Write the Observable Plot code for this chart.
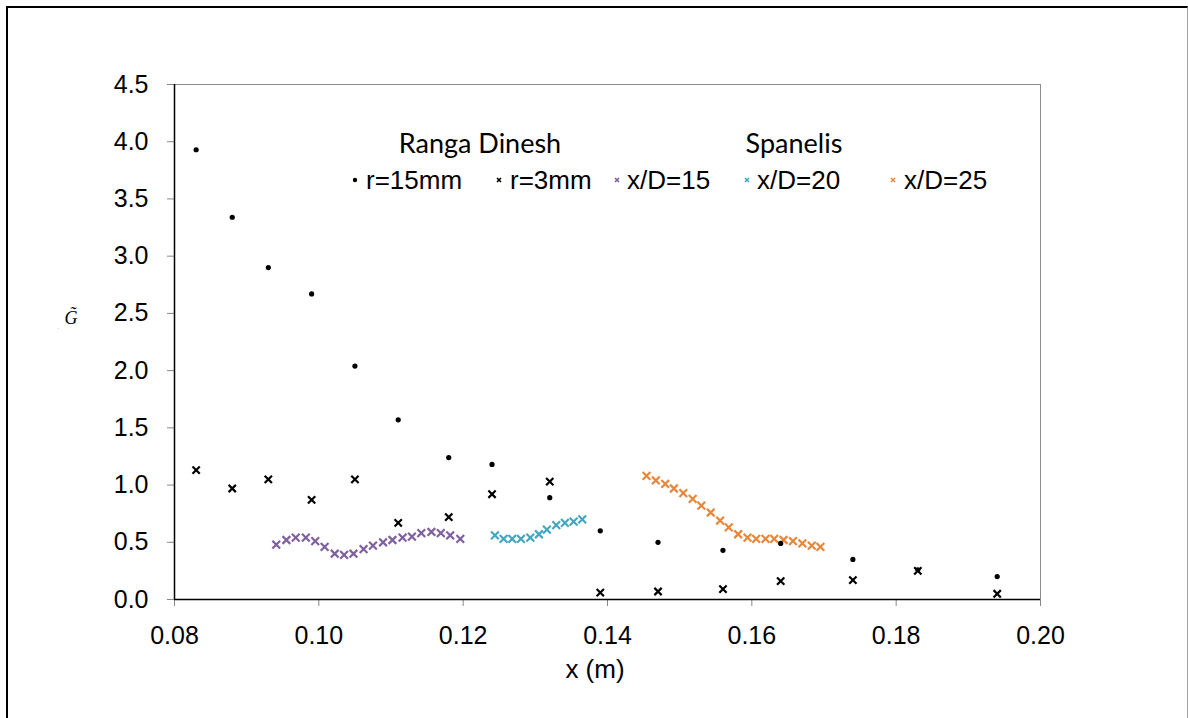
<!DOCTYPE html>
<html>
<head>
<meta charset="utf-8">
<script src="https://cdn.jsdelivr.net/npm/d3@7"></script>
<script src="https://cdn.jsdelivr.net/npm/@observablehq/plot@0.6"></script>
<style>
  html, body { margin: 0; padding: 0; background: #fff; }
  #wrap { position: relative; width: 1188px; height: 718px; overflow: hidden; font-family: "Liberation Sans", Arial, sans-serif; }
  #border { position: absolute; left: 6px; top: 6px; width: 1179px; height: 730px; border-left: 2px solid #000; border-top: 2px solid #000; border-right: 1px solid #a0a0a0; }
  #chart { position: absolute; left: 0; top: 0; }
  .lab { position: absolute; white-space: nowrap; color: #000; }
  .hdr { font-family: Lato, "Open Sans", sans-serif; font-size: 27px; transform: translate(-50%, -50%); }
  .item { font-size: 26px; transform: translateY(-50%); }
  .sym { position: absolute; transform: translate(-50%, -50%); }
</style>
</head>
<body>
<div id="wrap">
  <div id="border"></div>
  <div id="chart"></div>
</div>
<script>
// ---- data ----
const dineshX = [0.083, 0.088, 0.093, 0.099, 0.105, 0.111, 0.118, 0.124, 0.132, 0.139, 0.147, 0.156, 0.164, 0.174, 0.183, 0.194];
const r15 = [3.93, 3.34, 2.90, 2.67, 2.04, 1.57, 1.24, 1.18, 0.89, 0.60, 0.50, 0.43, 0.49, 0.35, 0.26, 0.20];
const r3 = [1.13, 0.97, 1.05, 0.87, 1.05, 0.67, 0.72, 0.92, 1.03, 0.06, 0.07, 0.09, 0.16, 0.17, 0.25, 0.05];

const xD15X = [0.0941, 0.0955, 0.0968, 0.0982, 0.0995, 0.1008, 0.1022, 0.1035, 0.1048, 0.1062, 0.1075, 0.1089, 0.1102, 0.1116, 0.1129, 0.1142, 0.1156, 0.1169, 0.1182, 0.1196];
const xD15Y = [0.48, 0.52, 0.54, 0.54, 0.51, 0.46, 0.40, 0.39, 0.40, 0.44, 0.47, 0.50, 0.52, 0.54, 0.55, 0.58, 0.59, 0.58, 0.56, 0.53];

const xD20X = [0.1244, 0.1256, 0.1268, 0.1280, 0.1293, 0.1305, 0.1316, 0.1329, 0.1341, 0.1353, 0.1365];
const xD20Y = [0.56, 0.53, 0.53, 0.53, 0.54, 0.57, 0.61, 0.65, 0.67, 0.68, 0.70];

const xD25X = [0.1454, 0.1467, 0.1480, 0.1492, 0.1505, 0.1518, 0.1530, 0.1543, 0.1556, 0.1568, 0.1581, 0.1594, 0.1606, 0.1619, 0.1631, 0.1644, 0.1657, 0.1670, 0.1683, 0.1695];
const xD25Y = [1.08, 1.04, 1.01, 0.97, 0.93, 0.88, 0.82, 0.76, 0.69, 0.63, 0.57, 0.54, 0.53, 0.53, 0.53, 0.52, 0.51, 0.49, 0.47, 0.46];

const xTicks = [0.08, 0.10, 0.12, 0.14, 0.16, 0.18, 0.20];
const yTicks = [0, 0.5, 1.0, 1.5, 2.0, 2.5, 3.0, 3.5, 4.0, 4.5];

const colors = { d15: "#7F60A0", d20: "#45A6C2", d25: "#E8873C" };

const zip = (xs, ys) => xs.map((x, i) => ({ x, y: ys[i] }));
const dR15 = zip(dineshX, r15);
const dR3 = zip(dineshX, r3);
const d15 = zip(xD15X, xD15Y);
const d20 = zip(xD20X, xD20Y);
const d25 = zip(xD25X, xD25Y);

const chart = Plot.plot({
  width: 1188,
  height: 718,
  marginLeft: 174,
  marginRight: 148,
  marginTop: 84,
  marginBottom: 119,
  style: { fontFamily: "'Liberation Sans', Arial, sans-serif", background: "transparent" },
  x: { domain: [0.08, 0.20] },
  y: { domain: [0, 4.5] },
  marks: [
    Plot.frame({ stroke: "#8c8c8c", strokeWidth: 1 }),
    Plot.axisX({ ticks: xTicks, tickFormat: d => d.toFixed(2), tickSize: 7, tickPadding: 20, fontSize: 25, stroke: "#888", fill: "#000", label: null }),
    Plot.axisY({ ticks: yTicks, tickFormat: d => d.toFixed(1), tickSize: 7, tickPadding: 19, fontSize: 25, stroke: "#888", fill: "#000", label: null }),
    Plot.ruleY([0], { stroke: "#000", strokeWidth: 1.5 }),
    Plot.ruleX([0.08], { stroke: "#000", strokeWidth: 1.5 }),
    Plot.dot(d15, { x: "x", y: "y", symbol: "times", r: 3.6, stroke: colors.d15, strokeWidth: 2.2 }),
    Plot.dot(d20, { x: "x", y: "y", symbol: "times", r: 3.6, stroke: colors.d20, strokeWidth: 2.2 }),
    Plot.dot(d25, { x: "x", y: "y", symbol: "times", r: 3.6, stroke: colors.d25, strokeWidth: 2.2 }),
    Plot.dot(dR3, { x: "x", y: "y", symbol: "times", r: 3.4, stroke: "#000", strokeWidth: 2.2 }),
    Plot.dot(dR15, { x: "x", y: "y", r: 2.6, fill: "#000", stroke: "none" })
  ]
});
document.getElementById("chart").appendChild(chart);

// ---- legend & labels ----
const wrap = document.getElementById("wrap");
function addLabel(text, cls, left, top, extra) {
  const el = document.createElement("div");
  el.className = "lab " + cls;
  el.textContent = text;
  el.style.left = left + "px";
  el.style.top = top + "px";
  if (extra) Object.assign(el.style, extra);
  wrap.appendChild(el);
  return el;
}
function addSym(kind, color, left, top) {
  const ns = "http://www.w3.org/2000/svg";
  const s = document.createElementNS(ns, "svg");
  s.setAttribute("width", 10); s.setAttribute("height", 10);
  s.setAttribute("class", "sym");
  s.style.position = "absolute";
  s.style.left = left + "px"; s.style.top = top + "px";
  if (kind === "dot") {
    const c = document.createElementNS(ns, "circle");
    c.setAttribute("cx", 5); c.setAttribute("cy", 5); c.setAttribute("r", 2.2); c.setAttribute("fill", color);
    s.appendChild(c);
  } else {
    const p = document.createElementNS(ns, "path");
    p.setAttribute("d", "M3,3L7,7M7,3L3,7");
    p.setAttribute("stroke", color); p.setAttribute("stroke-width", 1.6);
    s.appendChild(p);
  }
  wrap.appendChild(s);
}

const legendHeaders = ["Ranga Dinesh", "Spanelis"];
const legendItems = ["r=15mm", "r=3mm", "x/D=15", "x/D=20", "x/D=25"];

addLabel(legendHeaders[0], "hdr", 480, 142);
addLabel(legendHeaders[1], "hdr", 794, 142);

const rowY = 180;
addSym("dot", "#000", 355, rowY);
addLabel(legendItems[0], "item", 366, rowY);
addSym("x", "#000", 499, rowY);
addLabel(legendItems[1], "item", 510, rowY);
addSym("x", colors.d15, 617, rowY);
addLabel(legendItems[2], "item", 627, rowY);
addSym("x", colors.d20, 747, rowY);
addLabel(legendItems[3], "item", 757, rowY);
addSym("x", colors.d25, 893, rowY);
addLabel(legendItems[4], "item", 904, rowY);

// axis titles
addLabel("x (m)", "", 595, 669, { fontSize: "26px", transform: "translate(-50%, -50%)" });
addLabel("G\u0303", "", 71, 318, { fontFamily: "'Liberation Serif', 'DejaVu Serif', serif", fontStyle: "italic", fontSize: "18px", transform: "translate(-50%, -50%)" });
addLabel("\u00b7", "", 58, 328, { fontSize: "8px", color: "#bbb", transform: "translate(-50%, -50%)" });
</script>
</body>
</html>
